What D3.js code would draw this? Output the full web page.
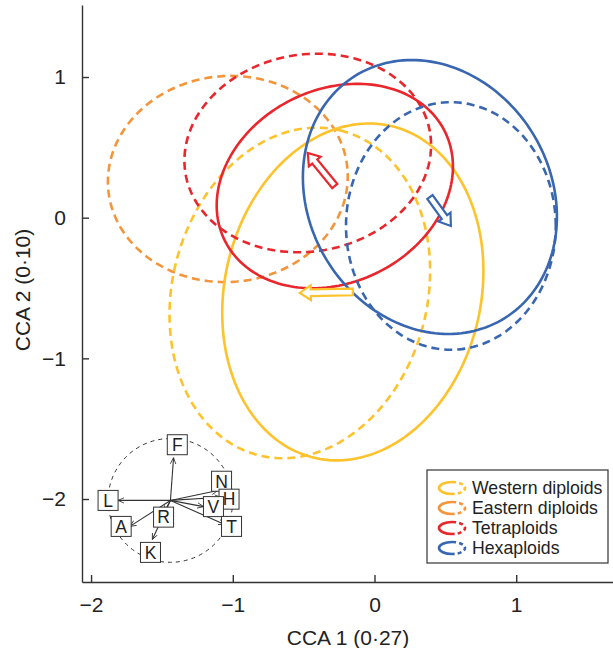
<!DOCTYPE html>
<html lang="en">
<head>
<meta charset="UTF-8">
<title>CCA ellipses</title>
<script src="https://d3js.org/d3.v7.min.js"></script>
<style>
    body { margin: 0; background: #fff; }
    svg { font-family: "Liberation Sans", Arial, Helvetica, sans-serif; }
    .axis path, .axis line { stroke: #333; stroke-width: 1.4; }
    .axis text { font-size: 21px; fill: #222; font-family: "Liberation Sans", Arial, sans-serif; }
</style>
</head>
<body>
<div id="chart"></div>
<script>
// ---- data ----
var groups = ["Western diploids", "Eastern diploids", "Tetraploids", "Hexaploids"];

// one row per ellipse (centre, semi-axes in CCA units, rotation in degrees)
var ellipseGroup = ["Eastern diploids", "Western diploids", "Western diploids", "Tetraploids", "Tetraploids", "Hexaploids", "Hexaploids"];
var ellipseKind  = ["dashed", "dashed", "solid", "dashed", "solid", "dashed", "solid"];
var ellipseCx    = [-1.035, -0.527, -0.153, -0.471, -0.280, 0.539, 0.391];
var ellipseCy    = [ 0.275, -0.535, -0.528,  0.460,  0.225, -0.059, 0.147];
var ellipseA     = [ 0.847,  1.19,   1.21,   0.875,  0.868, 0.74,  1.01];
var ellipseB     = [ 0.732,  0.90,   0.905,  0.70,   0.685, 0.88,  0.855];
var ellipseAngle = [ 5,      76,     77.5,   10,     27,    0,     -60];

// shift arrows: from solid ellipse centre to dashed ellipse centre
var shiftGroups = ["Tetraploids", "Hexaploids", "Western diploids"];

// inset biplot of environmental variables (unit circle coordinates)
var envCentre = [-1.44, -2.01];
var envRadius = 0.44;
var envNames  = ["F", "L", "A", "K", "R", "N", "H", "V", "T"];
var envTipX   = [0.05, -0.84, -0.65, -0.29, -0.10, 0.76, 0.81, 0.53, 0.87];
var envTipY   = [0.69,  0.00, -0.42, -0.63, -0.19, 0.16, 0.05, -0.10, -0.39];
var envLabX   = [0.11, -1.00, -0.79, -0.32, -0.11, 0.82, 0.94, 0.69, 0.98];
var envLabY   = [0.90,  0.00, -0.42, -0.84, -0.27, 0.31, 0.02, -0.10, -0.42];

var xTicks = [-2, -1, 0, 1];
var yTicks = [-2, -1, 0, 1];

// ---- styles ----
var colors = {
    "Western diploids": "#fdc22c",
    "Eastern diploids": "#f4953c",
    "Tetraploids": "#e8262b",
    "Hexaploids": "#3966b1"
};

var width = 613, height = 648;

var svg = d3.select("#chart").append("svg")
    .attr("width", width)
    .attr("height", height);

var x = d3.scaleLinear().domain([-2.064, 1.683]).range([82, 613]);
var y = d3.scaleLinear().domain([-2.59, 1.512]).range([582, 5]);

// ellipses
function ellipsePoints(i) {
    var pts = [];
    var th = ellipseAngle[i] * Math.PI / 180;
    for (var k = 0; k < 180; k++) {
        var t = k / 180 * 2 * Math.PI;
        var dx = ellipseA[i] * Math.cos(t), dy = ellipseB[i] * Math.sin(t);
        pts.push([ellipseCx[i] + dx * Math.cos(th) - dy * Math.sin(th),
                  ellipseCy[i] + dx * Math.sin(th) + dy * Math.cos(th)]);
    }
    return pts;
}

var line = d3.line()
    .x(function(d) { return x(d[0]); })
    .y(function(d) { return y(d[1]); })
    .curve(d3.curveLinearClosed);

svg.append("g").selectAll("path")
    .data(d3.range(ellipseCx.length))
    .enter().append("path")
    .attr("d", function(i) { return line(ellipsePoints(i)); })
    .attr("fill", "none")
    .attr("stroke", function(i) { return colors[ellipseGroup[i]]; })
    .attr("stroke-width", 2.6)
    .attr("stroke-dasharray", function(i) { return ellipseKind[i] == "dashed" ? "8,5" : null; });

// hollow shift arrows
function blockArrow(x0, y0, x1, y1) {
    var len = Math.hypot(x1 - x0, y1 - y0);
    var ux = (x1 - x0) / len, uy = (y1 - y0) / len;
    var nx = -uy, ny = ux;
    var w = 3.3, hw = 7.5, hl = 11;
    var bx = x1 - ux * hl, by = y1 - uy * hl;
    var p = [
        [x0 + nx * w, y0 + ny * w], [bx + nx * w, by + ny * w], [bx + nx * hw, by + ny * hw],
        [x1, y1],
        [bx - nx * hw, by - ny * hw], [bx - nx * w, by - ny * w], [x0 - nx * w, y0 - ny * w]
    ];
    return "M" + p.map(function(q) { return q[0] + "," + q[1]; }).join("L") + "Z";
}

function centreOf(group, kind) {
    for (var i = 0; i < ellipseGroup.length; i++) {
        if (ellipseGroup[i] == group && ellipseKind[i] == kind) return [ellipseCx[i], ellipseCy[i]];
    }
}

svg.append("g").selectAll("path")
    .data(shiftGroups)
    .enter().append("path")
    .attr("d", function(g) {
        var a = centreOf(g, "solid"), b = centreOf(g, "dashed");
        return blockArrow(x(a[0]), y(a[1]), x(b[0]), y(b[1]));
    })
    .attr("fill", "#fff")
    .attr("stroke", function(g) { return colors[g]; })
    .attr("stroke-width", 2.2);

// inset biplot
var inset = svg.append("g");
var ex = function(v) { return x(envCentre[0] + v * envRadius); };
var ey = function(v) { return y(envCentre[1] + v * envRadius); };

inset.append("ellipse")
    .attr("cx", ex(0)).attr("cy", ey(0))
    .attr("rx", ex(1) - ex(0)).attr("ry", ey(-1) - ey(0))
    .attr("fill", "none")
    .attr("stroke", "#333")
    .attr("stroke-width", 1)
    .attr("stroke-dasharray", "4,4");

svg.append("defs").append("marker")
    .attr("id", "vhead")
    .attr("viewBox", "0 0 10 10")
    .attr("refX", 9).attr("refY", 5)
    .attr("markerWidth", 7).attr("markerHeight", 7)
    .attr("markerUnits", "userSpaceOnUse")
    .attr("orient", "auto")
    .append("path")
    .attr("d", "M0,1L9,5L0,9")
    .attr("fill", "none")
    .attr("stroke", "#333")
    .attr("stroke-width", 1.2);

inset.selectAll("line.vec")
    .data(envNames)
    .enter().append("line")
    .attr("class", "vec")
    .attr("x1", ex(0)).attr("y1", ey(0))
    .attr("x2", function(d, i) { return ex(envTipX[i]); })
    .attr("y2", function(d, i) { return ey(envTipY[i]); })
    .attr("stroke", "#333")
    .attr("stroke-width", 1.1)
    .attr("marker-end", "url(#vhead)");

var labs = inset.selectAll("g.lab")
    .data(envNames)
    .enter().append("g")
    .attr("class", "lab")
    .attr("transform", function(d, i) {
        return "translate(" + ex(envLabX[i]) + "," + ey(envLabY[i]) + ")";
    });
labs.append("rect")
    .attr("x", -10).attr("y", -10)
    .attr("width", 20).attr("height", 20)
    .attr("fill", "#fff")
    .attr("stroke", "#333")
    .attr("stroke-width", 1);
labs.append("text")
    .attr("text-anchor", "middle")
    .attr("dy", "0.36em")
    .style("font-size", "17.5px")
    .style("fill", "#222")
    .text(function(d) { return d; });

// axes
svg.append("g")
    .attr("class", "axis")
    .attr("transform", "translate(0,582)")
    .call(d3.axisBottom(x).tickValues(xTicks).tickFormat(d3.format("d"))
        .tickSizeInner(-7).tickSizeOuter(0).tickPadding(15));

svg.append("g")
    .attr("class", "axis")
    .attr("transform", "translate(82,0)")
    .call(d3.axisLeft(y).tickValues(yTicks).tickFormat(d3.format("d"))
        .tickSizeInner(-7).tickSizeOuter(0).tickPadding(16));

svg.append("text")
    .attr("x", 348).attr("y", 645)
    .attr("text-anchor", "middle")
    .style("font-size", "21px")
    .style("fill", "#222")
    .text("CCA 1 (0·27)");

svg.append("text")
    .attr("transform", "translate(30,290) rotate(-90)")
    .attr("text-anchor", "middle")
    .style("font-size", "21px")
    .style("fill", "#222")
    .text("CCA 2 (0·10)");

// legend
var legend = svg.append("g").attr("transform", "translate(427,470)");
legend.append("rect")
    .attr("width", 181).attr("height", 93)
    .attr("fill", "#fff")
    .attr("stroke", "#333")
    .attr("stroke-width", 1.2);

var rows = legend.selectAll("g.row")
    .data(groups)
    .enter().append("g")
    .attr("class", "row")
    .attr("transform", function(d, i) { return "translate(0," + (18 + i * 20) + ")"; });

// left half solid, right half dashed
rows.append("path")
    .attr("d", "M25,-6 A13,6 0 0 0 25,6")
    .attr("fill", "none")
    .attr("stroke", function(d) { return colors[d]; })
    .attr("stroke-width", 2.6);
rows.append("path")
    .attr("d", "M25,-6 A13,6 0 0 1 25,6")
    .attr("fill", "none")
    .attr("stroke", function(d) { return colors[d]; })
    .attr("stroke-width", 2.6)
    .attr("stroke-dasharray", "4,3");
rows.append("text")
    .attr("x", 45)
    .attr("dy", "0.36em")
    .style("font-size", "17.7px")
    .style("fill", "#222")
    .text(function(d) { return d; });
</script>
</body>
</html>
